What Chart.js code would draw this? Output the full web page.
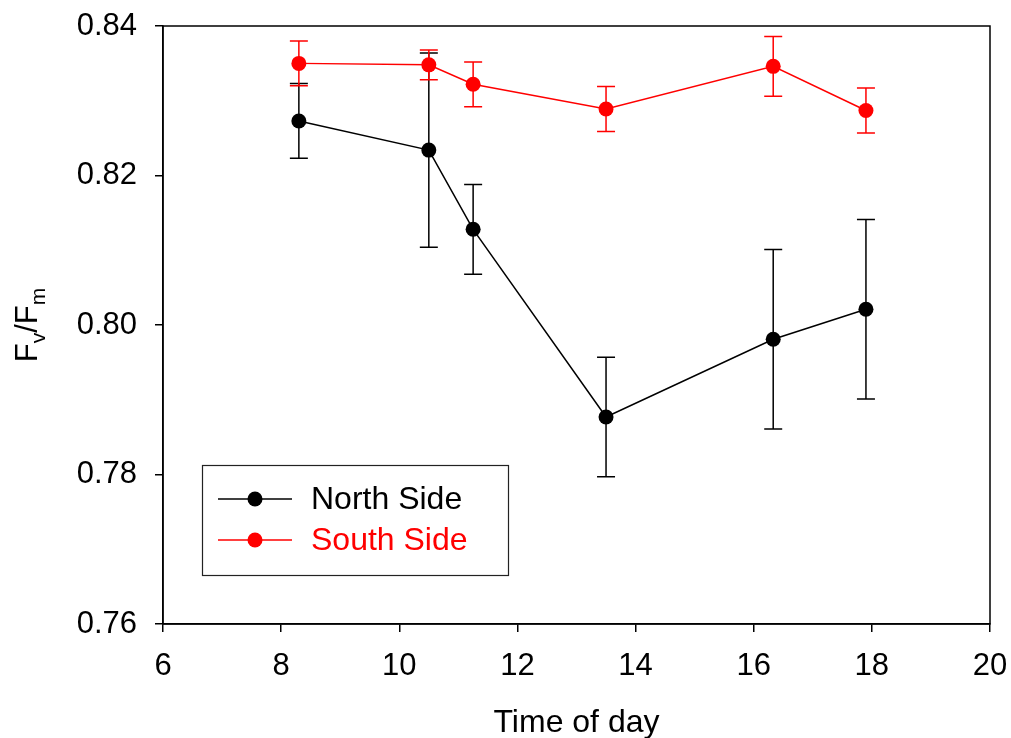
<!DOCTYPE html>
<html>
<head>
<meta charset="utf-8">
<script src="https://cdn.jsdelivr.net/npm/chart.js@4/dist/chart.umd.min.js"></script>
<style>
  html, body { margin: 0; padding: 0; background: #fff; }
  #wrap { width: 1011px; height: 738px; position: relative; }
</style>
</head>
<body>
<div id="wrap"><canvas id="chart"></canvas></div>
<script>
// Datos
const times = [8.3, 10.5, 11.25, 13.5, 16.33, 17.9];
const northMean = [0.8273, 0.8234, 0.8128, 0.7877, 0.7981, 0.8021];
const northErr = [0.005, 0.013, 0.006, 0.008, 0.012, 0.012];
const southMean = [0.8350, 0.8348, 0.8322, 0.8289, 0.8346, 0.8287];
const southErr = [0.003, 0.002, 0.003, 0.003, 0.004, 0.003];
const xTicks = [6, 8, 10, 12, 14, 16, 18, 20];
const yTicks = [0.76, 0.78, 0.80, 0.82, 0.84];
const seriesNames = ["North Side", "South Side"];

const FONT = "'Liberation Sans', Arial, sans-serif";

const toPoints = (xs, ys) => xs.map((x, i) => ({ x: x, y: ys[i] }));

// Barras de error, dibujadas antes de los marcadores
const errorBars = {
  id: "errorBars",
  beforeDatasetsDraw(chart) {
    const { ctx, scales } = chart;
    const sets = [
      { mean: northMean, err: northErr, color: "#000" },
      { mean: southMean, err: southErr, color: "#ff0000" },
    ];
    ctx.save();
    sets.forEach((s) => {
      ctx.strokeStyle = s.color;
      ctx.lineWidth = 1.5;
      times.forEach((t, i) => {
        const x = scales.x.getPixelForValue(t);
        const top = scales.y.getPixelForValue(s.mean[i] + s.err[i]);
        const bot = scales.y.getPixelForValue(s.mean[i] - s.err[i]);
        ctx.beginPath();
        ctx.moveTo(x, top);
        ctx.lineTo(x, bot);
        ctx.moveTo(x - 9, top);
        ctx.lineTo(x + 9, top);
        ctx.moveTo(x - 9, bot);
        ctx.lineTo(x + 9, bot);
        ctx.stroke();
      });
    });
    ctx.restore();
  },
};

// Marco, títulos de ejes y leyenda
const decorations = {
  id: "decorations",
  afterDraw(chart) {
    const { ctx, chartArea: a } = chart;
    ctx.save();
    ctx.strokeStyle = "#000";
    ctx.lineWidth = 1.5;
    ctx.strokeRect(a.left, a.top, a.right - a.left, a.bottom - a.top);

    // Título eje X
    ctx.fillStyle = "#000";
    ctx.font = "32px " + FONT;
    ctx.textAlign = "center";
    ctx.textBaseline = "alphabetic";
    ctx.fillText("Time of day", (a.left + a.right) / 2, 732);

    // Título eje Y: F_v/F_m
    const parts = [
      { t: "F", size: 31, dy: 0 },
      { t: "v", size: 21, dy: 8 },
      { t: "/F", size: 31, dy: 0 },
      { t: "m", size: 21, dy: 8 },
    ];
    let total = 0;
    parts.forEach((p) => {
      ctx.font = p.size + "px " + FONT;
      p.w = ctx.measureText(p.t).width;
      total += p.w;
    });
    ctx.translate(37, (a.top + a.bottom) / 2);
    ctx.rotate(-Math.PI / 2);
    ctx.textAlign = "left";
    let cx = -total / 2;
    parts.forEach((p) => {
      ctx.font = p.size + "px " + FONT;
      ctx.fillText(p.t, cx, p.dy);
      cx += p.w;
    });
    ctx.setTransform(1, 0, 0, 1, 0, 0);

    // Leyenda
    const box = { x: 202, y: 465, w: 306, h: 110 };
    ctx.lineWidth = 1.2;
    ctx.strokeStyle = "#222";
    ctx.strokeRect(box.x + 0.5, box.y + 0.5, box.w, box.h);
    const rows = [
      { name: seriesNames[0], color: "#000", y: 499 },
      { name: seriesNames[1], color: "#ff0000", y: 540 },
    ];
    rows.forEach((r) => {
      ctx.strokeStyle = r.color;
      ctx.fillStyle = r.color;
      ctx.lineWidth = 1.5;
      ctx.beginPath();
      ctx.moveTo(218, r.y);
      ctx.lineTo(292, r.y);
      ctx.stroke();
      ctx.beginPath();
      ctx.arc(255, r.y, 7.5, 0, Math.PI * 2);
      ctx.fill();
      ctx.font = "32px " + FONT;
      ctx.textAlign = "left";
      ctx.textBaseline = "middle";
      ctx.fillText(r.name, 311, r.y + 1);
    });
    ctx.restore();
  },
};

new Chart(document.getElementById("chart"), {
  type: "line",
  data: {
    datasets: [
      {
        label: seriesNames[0],
        data: toPoints(times, northMean),
        borderColor: "#000",
        backgroundColor: "#000",
        borderWidth: 1.5,
        pointRadius: 7.5,
        pointBorderWidth: 0,
        pointBackgroundColor: "#000",
        tension: 0,
      },
      {
        label: seriesNames[1],
        data: toPoints(times, southMean),
        borderColor: "#ff0000",
        backgroundColor: "#ff0000",
        borderWidth: 1.5,
        pointRadius: 7.5,
        pointBorderWidth: 0,
        pointBackgroundColor: "#ff0000",
        tension: 0,
      },
    ],
  },
  options: {
    responsive: true,
    maintainAspectRatio: false,
    animation: false,
    events: [],
    layout: { padding: { top: 26, right: 21, left: 0, bottom: 0 } },
    plugins: { legend: { display: false }, tooltip: { enabled: false } },
    scales: {
      x: {
        type: "linear",
        min: 6,
        max: 20,
        afterBuildTicks: (axis) => { axis.ticks = xTicks.map((v) => ({ value: v })); },
        afterFit: (axis) => {
          axis.height = 114;
          axis.paddingLeft = 0;
          axis.paddingRight = 0;
        },
        grid: { drawOnChartArea: false, tickLength: 8, color: "#000", lineWidth: 1.5 },
        border: { display: true, color: "#000", width: 1.5 },
        ticks: {
          color: "#000",
          font: { family: FONT, size: 31 },
          padding: 16,
          maxRotation: 0,
          callback: (v) => String(v),
        },
      },
      y: {
        type: "linear",
        min: 0.76,
        max: 0.84,
        afterBuildTicks: (axis) => { axis.ticks = yTicks.map((v) => ({ value: v })); },
        afterFit: (axis) => {
          axis.width = 163;
          axis.paddingTop = 0;
          axis.paddingBottom = 0;
        },
        grid: { drawOnChartArea: false, tickLength: 8, color: "#000", lineWidth: 1.5 },
        border: { display: true, color: "#000", width: 1.5 },
        ticks: {
          color: "#000",
          font: { family: FONT, size: 31 },
          padding: 18,
          callback: (v) => v.toFixed(2),
        },
      },
    },
  },
  plugins: [errorBars, decorations],
});
</script>
</body>
</html>
